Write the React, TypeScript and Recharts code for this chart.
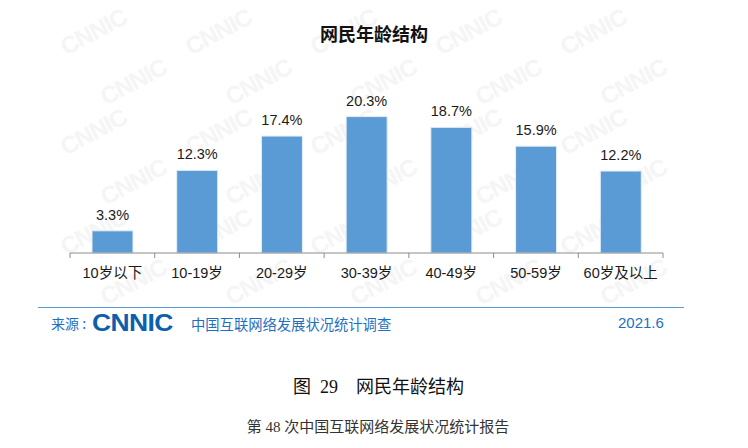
import { BarChart, Bar, XAxis, YAxis, LabelList } from "recharts";

// 网民年龄结构 (2021.6)
const categories = ["10岁以下", "10-19岁", "20-29岁", "30-39岁", "40-49岁", "50-59岁", "60岁及以上"];
const shares = [3.3, 12.3, 17.4, 20.3, 18.7, 15.9, 12.2];

const chartData = categories.map((name, i) => ({ name, value: shares[i] }));

const SANS = "'Liberation Sans', Arial, 'Noto Sans CJK SC', sans-serif";
const SERIF = "'Liberation Serif', 'Noto Sans CJK SC', serif";
const BLUE_TEXT = "#1f6fbf";

const W = 748;
const M_LEFT = 70;
const M_RIGHT = 85;
const BAND = (W - M_LEFT - M_RIGHT) / categories.length;
const TICK_SIZE = 5;
const TICK_MARGIN = 10;

// tick marks sit on the category boundaries, like the Excel original
const AgeTick = (props: any) => {
  const { x, y, payload, index } = props;
  const axisY = y - TICK_SIZE - TICK_MARGIN;
  return (
    <g>
      <line x1={x - BAND / 2} x2={x - BAND / 2} y1={axisY} y2={axisY + TICK_SIZE} stroke="#8c8c8c" />
      {index === categories.length - 1 && (
        <line x1={x + BAND / 2} x2={x + BAND / 2} y1={axisY} y2={axisY + TICK_SIZE} stroke="#8c8c8c" />
      )}
      <text x={x} y={y} dy="0.71em" textAnchor="middle" fill="#1a1a1a" fontSize={14.5} fontFamily={SANS}>
        {payload.value}
      </text>
    </g>
  );
};

// very faint "CNNIC" watermark grid in the background, kept inside the panel
const Watermarks = () => {
  const marks = [];
  for (let r = 0; r < 6; r++) {
    for (let c = 0; c < 5; c++) {
      const left = 20 + c * 125 + (r % 2) * 40;
      const top = 18 + r * 50;
      marks.push(
        <div
          key={`${r}-${c}`}
          style={{
            position: "absolute",
            left,
            top,
            transform: "rotate(-28deg)",
            fontFamily: SANS,
            fontWeight: 700,
            fontSize: 24,
            color: "#f5f5f5",
            letterSpacing: -1,
          }}
        >
          CNNIC
        </div>
      );
    }
  }
  return <div style={{ position: "absolute", left: 38, top: 0, width: 646, height: 340 }}>{marks}</div>;
};

export default function App() {
  return (
    <div style={{ position: "absolute", left: 0, top: 0, width: W, height: 448, background: "#ffffff", overflow: "hidden" }}>
      <Watermarks />
      <div
        style={{
          position: "absolute",
          left: 0,
          top: 20,
          width: W,
          textAlign: "center",
          fontFamily: "'Noto Sans CJK SC', sans-serif",
          fontWeight: 700,
          fontSize: 18,
          lineHeight: "26px",
          color: "#111",
        }}
      >
        网民年龄结构
      </div>
      <div style={{ position: "absolute", left: 0, top: 0 }}>
        <BarChart width={W} height={300} data={chartData} margin={{ top: 85, right: M_RIGHT, bottom: 0, left: M_LEFT }}>
          <XAxis
            dataKey="name"
            height={47}
            stroke="#8c8c8c"
            tickLine={false}
            tickSize={TICK_SIZE}
            tickMargin={TICK_MARGIN}
            tick={<AgeTick />}
            interval={0}
          />
          <YAxis hide domain={[0, 25]} />
          <Bar dataKey="value" fill="#5b9bd5" stroke="#e4eef8" strokeWidth={1} barSize={41} isAnimationActive={false}>
            <LabelList
              dataKey="value"
              position="top"
              offset={11}
              formatter={(v: any) => `${v}%`}
              fill="#1a1a1a"
              fontSize={14.5}
              fontFamily={SANS}
            />
          </Bar>
        </BarChart>
      </div>
      {/* source line */}
      <div style={{ position: "absolute", left: 38, top: 307, width: 646, height: 0, borderTop: "1.5px solid #5b9bd5" }} />
      <div
        style={{
          position: "absolute",
          left: 51,
          top: 313,
          height: 20,
          display: "flex",
          alignItems: "center",
          fontFamily: "'Noto Sans CJK SC', sans-serif",
          fontSize: 14,
          color: BLUE_TEXT,
          whiteSpace: "nowrap",
        }}
      >
        <span>来源 :</span>
        <span
          style={{
            marginLeft: 6,
            fontFamily: SANS,
            fontWeight: 700,
            fontSize: 23,
            letterSpacing: -0.5,
            color: "#0d5fae",
            transform: "scaleX(1.15)",
            transformOrigin: "left center",
            display: "inline-block",
            width: 99,
          }}
        >
          CNNIC
        </span>
        <span style={{ fontSize: 14.3 }}>中国互联网络发展状况统计调查</span>
      </div>
      <div
        style={{
          position: "absolute",
          left: 618,
          top: 313,
          lineHeight: "20px",
          fontFamily: SANS,
          fontSize: 15,
          color: BLUE_TEXT,
        }}
      >
        2021.6
      </div>
      {/* figure caption */}
      <div
        style={{
          position: "absolute",
          left: 293,
          top: 374,
          lineHeight: "26px",
          fontFamily: SERIF,
          fontSize: 18,
          color: "#111",
          whiteSpace: "pre",
        }}
      >
        图{"  "}29{"    "}网民年龄结构
      </div>
      <div
        style={{
          position: "absolute",
          left: 0,
          top: 417,
          width: 756,
          textAlign: "center",
          lineHeight: "20px",
          fontFamily: SERIF,
          fontSize: 15,
          color: "#333",
        }}
      >
        第 48 次中国互联网络发展状况统计报告
      </div>
    </div>
  );
}
